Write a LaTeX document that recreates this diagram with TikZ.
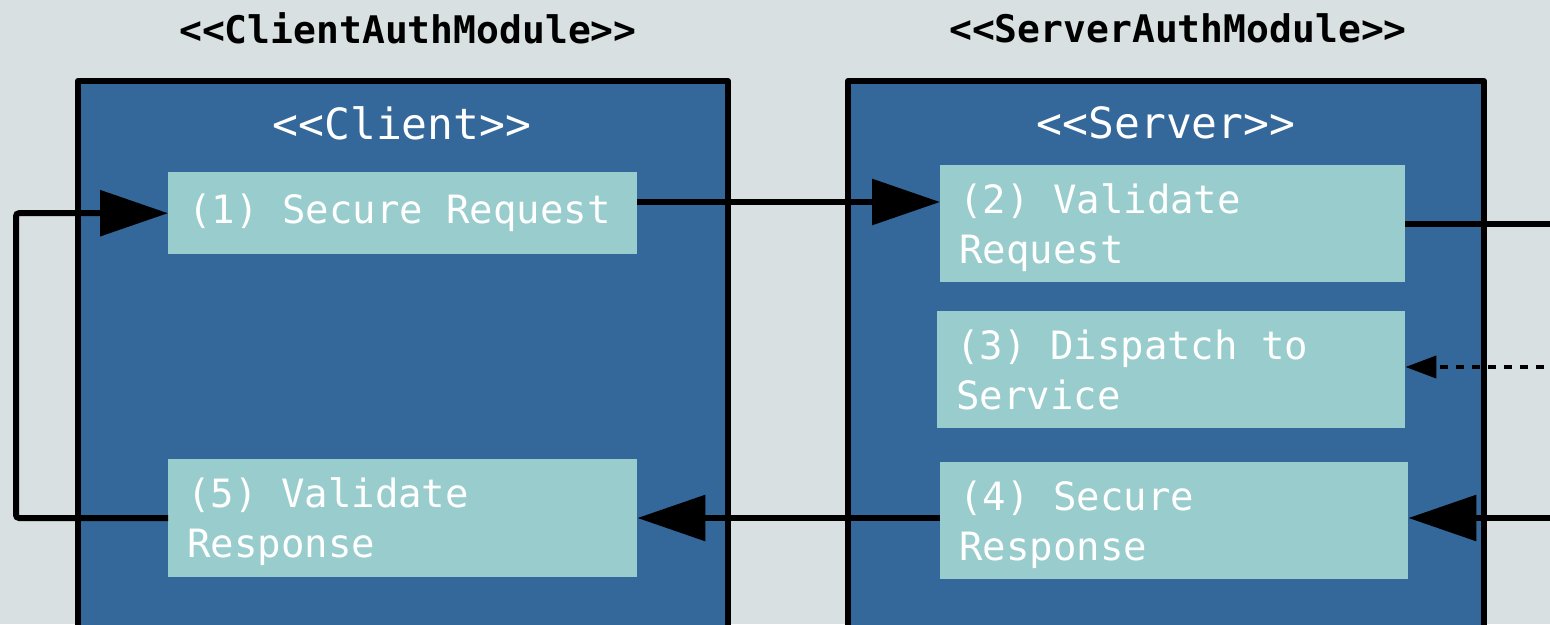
\documentclass[tikz,border=0pt]{standalone}
\usepackage{fontspec}
\newfontfamily\dmono{DejaVu Sans Mono}
\newcommand\msp{\hspace{0.602em}}
\newcommand\tstrut{\rule{0pt}{37pt}}
\usetikzlibrary{arrows.meta}
\definecolor{bgc}{HTML}{D8E0E1}
\definecolor{outerc}{HTML}{34679A}
\definecolor{innerc}{HTML}{99CCCD}
\tikzset{
  outerbox/.style={draw=black, line width=6pt, fill=outerc, line join=round},
  innerbox/.style={fill=innerc, draw=none, text=white, anchor=north west,
    font=\dmono\fontsize{39}{50}\selectfont, align=left, inner ysep=0pt},
  title/.style={font=\dmono\bfseries\fontsize{38}{46}\selectfont, text=black},
  subtitle/.style={font=\dmono\fontsize{43}{50}\selectfont, text=white},
  conn/.style={line width=6pt, -{Triangle[length=68pt,width=45pt]}},
  plainconn/.style={line width=6pt},
  dconn/.style={line width=4pt, dash pattern=on 8pt off 8pt, -{Triangle[length=31pt,width=22pt]}}
}
\begin{document}
\begin{tikzpicture}[x=1pt,y=-1pt]
\fill[bgc] (0,0) rectangle (1550,624);
\useasboundingbox (0,0) rectangle (1550,624);
\clip (0,0) rectangle (1550,624);

\node[title] (t1) at (408,28) {<<ClientAuthModule>>};
\node[title] (t2) at (1178,28) {<<ServerAuthModule>>};

\draw[outerbox] (78,81) rectangle (728,660);
\draw[outerbox] (848,81) rectangle (1484,660);

\node[subtitle] (sc) at (402,123) {<<Client>>};
\node[subtitle] (ss) at (1166,123) {<<Server>>};

\node[innerbox, minimum width=469pt, minimum height=82pt, text width=429pt, inner xsep=20pt] (n1) at (168,172) {(1)\msp Secure\msp Request};
\node[innerbox, minimum width=469pt, minimum height=118pt, text width=431pt, inner xsep=19pt] (n5) at (168,459) {\tstrut(5)\msp Validate\\Response};
\node[innerbox, minimum width=465pt, minimum height=117pt, text width=427pt, inner xsep=19pt] (n2) at (940,165) {\tstrut(2)\msp Validate\\Request};
\node[innerbox, minimum width=468pt, minimum height=117pt, text width=430pt, inner xsep=18pt] (n3) at (937,311) {(3)\msp Dispatch\msp to\\Service};
\node[innerbox, minimum width=468pt, minimum height=117pt, text width=430pt, inner xsep=19pt] (n4) at (940,462) {\tstrut(4)\msp Secure\\Response};

\coordinate (r2) at (1560,224);
\coordinate (r3) at (1560,367);
\coordinate (r4) at (1560,518);
\coordinate (lp) at (16,0);

\draw[conn] (n1.east |- 0,202) -- (n2.west |- 0,202);
\draw[plainconn] (n2.east |- r2) -- (r2);
\draw[dconn] (r3) -- (n3.east |- r3);
\draw[conn] (r4) -- (n4.east |- r4);
\draw[conn] (n4.west |- 0,518) -- (n5.east |- 0,518);
\draw[conn, rounded corners=3pt] (n5.west |- 0,518) -- (lp |- 0,518) -- (lp |- n1.west) -- (n1.west);
\end{tikzpicture}
\end{document}
